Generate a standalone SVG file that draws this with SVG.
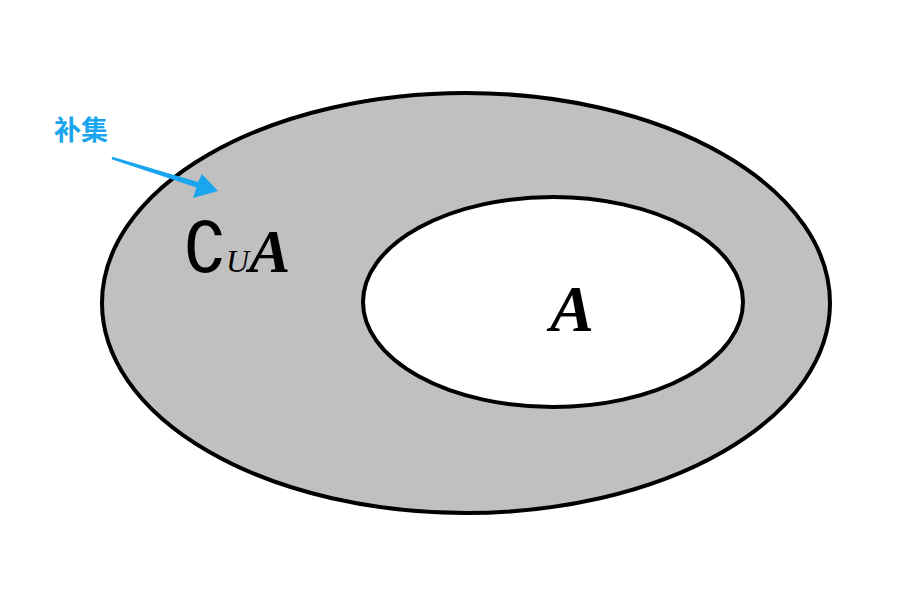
<svg xmlns="http://www.w3.org/2000/svg" width="915" height="608" viewBox="0 0 915 608">
<style>
.ring{stroke:#000;stroke-width:4}
.lbl{font-family:"Noto Sans CJK SC","Noto Sans",sans-serif;font-weight:bold;font-size:27px;fill:#19a6ee;stroke:#fff;stroke-width:3;paint-order:stroke}
.math{font-family:"Liberation Serif","DejaVu Serif",serif;fill:#000}
</style>
<rect width="915" height="608" fill="#fff"/>
<g id="universe">
<ellipse class="ring" cx="466" cy="303" rx="364" ry="210" fill="#c0c0c0"/>
<text class="math" x="183" y="272" font-size="70">∁<tspan font-size="32" font-style="italic" dx="-2">U</tspan><tspan font-size="62" font-style="italic" font-weight="bold">A</tspan></text>
</g>
<g id="setA">
<ellipse class="ring" cx="553" cy="302" rx="190" ry="105" fill="#fff"/>
<text class="math" x="550" y="331" font-size="66" font-style="italic" font-weight="bold">A</text>
</g>
<g id="label">
<text class="lbl" x="54" y="140">补集</text>
</g>
<g id="connectors">
<polygon points="112.4,156.7 198,182 202,174 218,191 193,198 196.5,187.5 111.6,159.3" fill="#19a6ee"/>
</g>
</svg>
